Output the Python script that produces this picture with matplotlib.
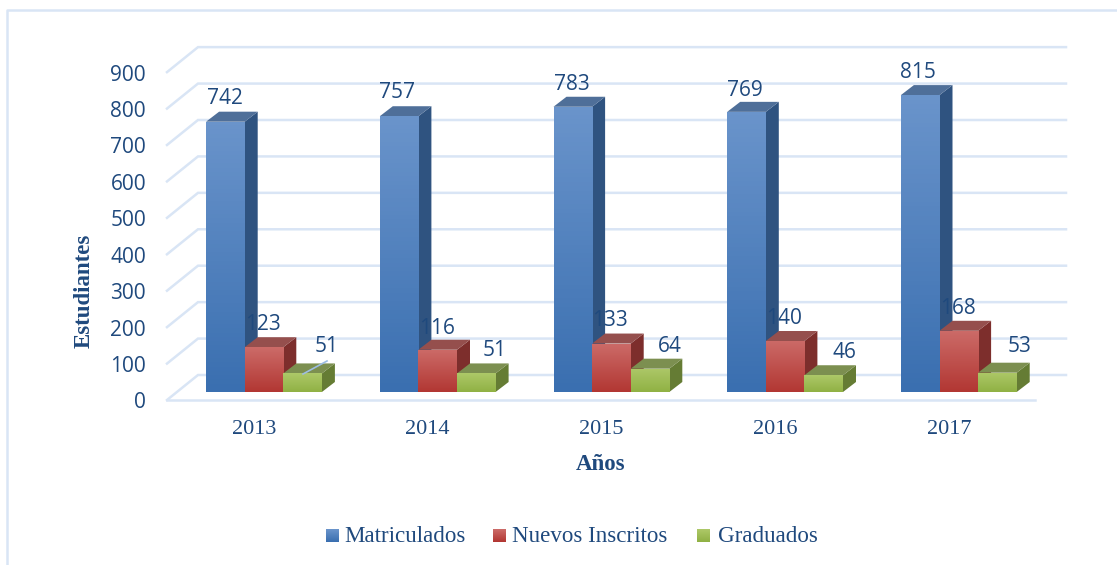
import numpy as np
import matplotlib
matplotlib.use("Agg")
import matplotlib.pyplot as plt
from matplotlib.colors import LinearSegmentedColormap
from matplotlib.patches import Polygon

years = ["2013", "2014", "2015", "2016", "2017"]
matriculados = [742, 757, 783, 769, 815]
nuevos = [123, 116, 133, 140, 168]
graduados = [51, 51, 64, 46, 53]
yticks = [0, 100, 200, 300, 400, 500, 600, 700, 800, 900]
series_names = ["Matriculados", "Nuevos Inscritos", "Graduados"]

W, H = 1117, 565
X0, Y0 = 264.0, 392.0   # pixel position of first group centre / value 0
UX, UY = 173.7, 0.3643  # pixels per category, pixels per student
DX, DY = 13.0 / UX, 10.0 / UY  # bar depth
BW = 38.6 / UX
TEXT = "#1F497D"
GRID = "#D9E5F5"

# front face top colour, front face bottom colour, side, top
styles = [
    ("#6A94CB", "#3A6FB0", "#2F5380", "#4F6F99"),
    ("#CC6B68", "#B23733", "#7D2E2C", "#954F4D"),
    ("#ADC868", "#90B144", "#657C34", "#7C8F50"),
]


def px(x, y):
    # pixel of the picture -> data coordinates
    return (x - X0) / UX, (Y0 - y) / UY


fig = plt.figure(figsize=(W / 100, H / 100), dpi=100)
ax = fig.add_axes([0, 0, 1, 1])
ax.set_xlim(-X0 / UX, (W - X0) / UX)
ax.set_ylim((Y0 - H) / UY, Y0 / UY)
ax.axis("off")

# chart border, only left and top are visible in the crop
border_x, border_y = zip(px(7, 565), px(7, 10), px(1117, 10))
ax.plot(border_x, border_y, color=GRID, lw=1.8, zorder=1)

# back wall gridlines and left wall
left = px(167, 400)
right = px(1035, 400)
wall_dx = 31.0 / UX
wall_dy = 25.0 / UY
for v in yticks:
    y = left[1] + v
    xs = [left[0], left[0] + wall_dx, right[0] + wall_dx]
    ys = [y, y + wall_dy, y + wall_dy]
    ax.plot(xs, ys, color=GRID, lw=1.8, zorder=2, solid_joinstyle="miter")
    tx, ty = px(146, 0)
    ax.text(tx, y - 8, str(v), ha="right", va="center", fontsize=15,
            family="Open Sans", color=TEXT)
# floor front edge
ax.plot([left[0], right[0]], [left[1], left[1]], color=GRID, lw=1.8, zorder=2)

# bars
all_values = [matriculados, nuevos, graduados]
for s, values in enumerate(all_values):
    c_top, c_bot, c_side, c_cap = styles[s]
    cmap = LinearSegmentedColormap.from_list("g", [c_top, c_bot])
    for i, v in enumerate(values):
        x0 = i + (s - 1.5) * BW
        x1 = x0 + BW
        z = 5 + i * 3 + s
        side = Polygon([(x1, 0), (x1 + DX, DY), (x1 + DX, v + DY), (x1, v)],
                       fc=c_side, ec="none", zorder=z)
        cap = Polygon([(x0, v), (x0 + DX, v + DY), (x1 + DX, v + DY), (x1, v)],
                      fc=c_cap, ec="none", zorder=z)
        ax.add_patch(side)
        ax.add_patch(cap)
        bar = ax.bar(x0, v, BW, align="edge", color="none", zorder=z)[0]
        im = ax.imshow(np.linspace(0, 1, 64).reshape(-1, 1), cmap=cmap, aspect="auto",
                       extent=(x0, x1, 0, v), zorder=z)
        im.set_clip_path(bar)

# data labels, placed by hand like the original
label_px = [
    [(225, 98), (397, 93), (572, 84), (745, 90), (918, 73)],
    [(263, 325), (437, 328), (610, 321), (784, 318), (958, 309)],
    [(327, 346), (495, 351), (670, 347), (844, 353), (1020, 347)],
]
for values, places in zip(all_values, label_px):
    for v, (lx, ly) in zip(values, places):
        tx, ty = px(lx, ly)
        ax.text(tx, ty, str(v), ha="center", va="center", fontsize=15,
                family="Open Sans", color=TEXT, zorder=40)

# leader line of the first Graduados label
a, b = px(303, 374), px(327, 361)
ax.plot([a[0], b[0]], [a[1], b[1]], color="#9DBDE3", lw=1.2, zorder=41)

# category labels and axis titles
for i, yr in enumerate(years):
    ax.text(i - 10 / UX, px(0, 430)[1], yr, ha="center", va="center", fontsize=16,
            family="Liberation Serif", color=TEXT)
tx, ty = px(601, 464)
ax.text(tx, ty, "Años", ha="center", va="center", fontsize=16.5, fontweight="bold",
        family="Liberation Serif", color=TEXT)
tx, ty = px(84, 291)
ax.text(tx, ty, "Estudiantes", ha="center", va="center", rotation=90, fontsize=16.5,
        fontweight="bold", family="Liberation Serif", color=TEXT)

# legend
legend_px = [(326, 344), (493, 512), (697, 718)]
for name, (bx, tx_), st in zip(series_names, legend_px, styles):
    cmap = LinearSegmentedColormap.from_list("g", [st[0], st[1]])
    xa, ya = px(bx, 542)
    xb, yb = px(bx + 13, 529)
    ax.imshow(np.linspace(0, 1, 16).reshape(-1, 1), cmap=cmap, aspect="auto",
              extent=(xa, xb, ya, yb), zorder=5)
    tx, ty = px(tx_, 537)
    ax.text(tx, ty, name, ha="left", va="center", fontsize=16.6,
            family="Liberation Serif", color=TEXT)

ax.set_xlim(-X0 / UX, (W - X0) / UX)
ax.set_ylim((Y0 - H) / UY, Y0 / UY)
fig.savefig("out.png", dpi=100, facecolor="white")
